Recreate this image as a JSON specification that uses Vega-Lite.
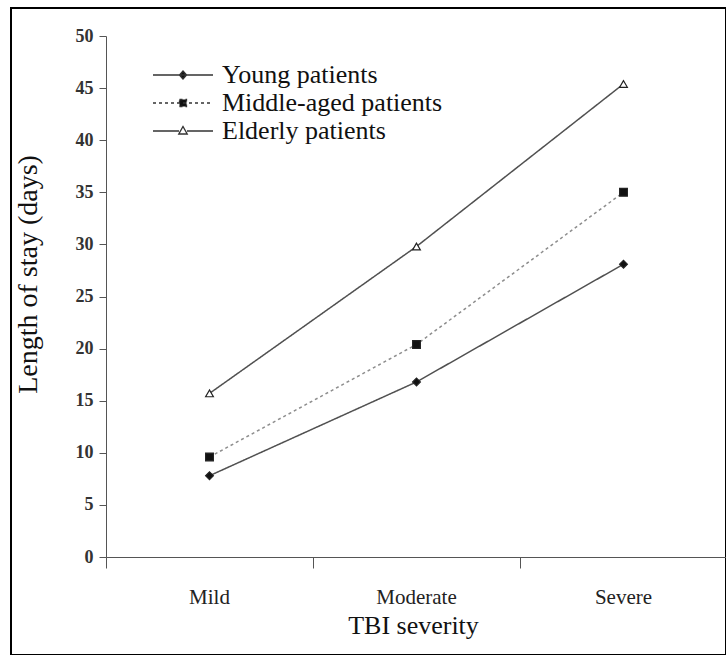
{
  "$schema": "https://vega.github.io/schema/vega-lite/v6.json",
  "width": 715,
  "height": 647,
  "autosize": "none",
  "padding": {"left": 11, "top": 8, "right": 0, "bottom": 0},
  "background": "white",
  "config": {
    "view": {"stroke": "#000", "strokeWidth": 2},
    "font": "Liberation Serif",
    "axis": {"labelFont": "Liberation Serif", "titleFont": "Liberation Serif"},
    "legend": {"labelFont": "Liberation Serif"}
  },
  "data": {
    "values": [
      {"severity": "Mild", "group": "Young patients", "stay": 7.8},
      {"severity": "Moderate", "group": "Young patients", "stay": 16.8},
      {"severity": "Severe", "group": "Young patients", "stay": 28.1},
      {"severity": "Mild", "group": "Middle-aged patients", "stay": 9.6},
      {"severity": "Moderate", "group": "Middle-aged patients", "stay": 20.4},
      {"severity": "Severe", "group": "Middle-aged patients", "stay": 35.0},
      {"severity": "Mild", "group": "Elderly patients", "stay": 15.7},
      {"severity": "Moderate", "group": "Elderly patients", "stay": 29.8},
      {"severity": "Severe", "group": "Elderly patients", "stay": 45.4}
    ]
  },
  "encoding": {
    "x": {
      "field": "severity",
      "type": "nominal",
      "sort": ["Mild", "Moderate", "Severe"],
      "scale": {"type": "band", "range": [95, 716], "paddingInner": 0, "paddingOuter": 0},
      "axis": {
        "title": "TBI severity",
        "labelAngle": 0,
        "bandPosition": 0,
        "offset": -98,
        "tickSize": 11,
        "labelPadding": 35,
        "labelBaseline": "alphabetic",
        "labelFontSize": 21,
        "labelColor": "#222",
        "domainColor": "#555",
        "tickColor": "#555",
        "titleFontSize": 26,
        "titleFontWeight": "normal",
        "titleColor": "#111",
        "titleBaseline": "alphabetic",
        "titleX": 402,
        "titleY": 76
      }
    },
    "y": {
      "field": "stay",
      "type": "quantitative",
      "scale": {"domain": [0, 50], "range": [549, 28], "nice": false, "zero": false},
      "axis": {
        "title": "Length of stay (days)",
        "values": [0, 5, 10, 15, 20, 25, 30, 35, 40, 45, 50],
        "grid": false,
        "offset": -95,
        "tickSize": 7,
        "labelPadding": 6,
        "labelFontSize": 18,
        "labelFontWeight": "bold",
        "labelColor": "#333",
        "domainColor": "#555",
        "tickColor": "#555",
        "titleFontSize": 28,
        "titleFontWeight": "normal",
        "titleColor": "#111",
        "titleBaseline": "middle",
        "titleX": -78,
        "titleY": 266
      }
    }
  },
  "layer": [
    {
      "mark": {"type": "line", "strokeWidth": 1.5, "stroke": "#505050"},
      "encoding": {
        "strokeOpacity": {
          "field": "group",
          "type": "nominal",
          "scale": {
            "type": "ordinal",
            "domain": ["Elderly patients", "Middle-aged patients", "Young patients"],
            "range": [1, 0.65, 1]
          },
          "legend": null
        },
        "strokeDash": {
          "field": "group",
          "type": "nominal",
          "scale": {
            "domain": ["Young patients", "Middle-aged patients", "Elderly patients"],
            "range": [[1, 0], [3, 3], [1, 0]]
          },
          "legend": {
            "title": null,
            "orient": "none",
            "legendX": 159,
            "legendY": 54,
            "padding": 0,
            "symbolSize": 100,
            "symbolStrokeWidth": 1.3,
            "symbolStrokeColor": "#333",
            "labelOffset": 26,
            "labelFontSize": 26,
            "labelLimit": 400,
            "labelColor": "#111",
            "rowPadding": 2,
            "encode": {
              "symbols": {
                "update": {
                  "shape": {"signal": "datum.value === 'Young patients' ? 'M-6,0H6M0,-0.8L0.7,0L0,0.8L-0.7,0Z' : datum.value === 'Middle-aged patients' ? 'M-6,0H6M-0.7,-0.7H0.7V0.7H-0.7Z' : 'M-6,0H-0.8M0.8,0H6M0,-0.9L0.85,0.6L-0.85,0.6Z'"},
                  "fill": {"signal": "datum.value === 'Elderly patients' ? 'white' : '#111'"},
                  "stroke": {"value": "#333"}
                }
              }
            }
          }
        }
      }
    },
    {
      "mark": {"type": "point", "filled": false, "strokeWidth": 1.2, "opacity": 1},
      "encoding": {
        "shape": {
          "field": "group",
          "type": "nominal",
          "scale": {
            "domain": ["Elderly patients", "Middle-aged patients", "Young patients"],
            "range": ["triangle-up", "square", "diamond"]
          },
          "legend": null
        },
        "fill": {
          "field": "group",
          "type": "nominal",
          "scale": {
            "domain": ["Elderly patients", "Middle-aged patients", "Young patients"],
            "range": ["white", "#111", "#111"]
          },
          "legend": null
        },
        "stroke": {"value": "#222"},
        "size": {"value": 60}
      }
    }
  ]
}
